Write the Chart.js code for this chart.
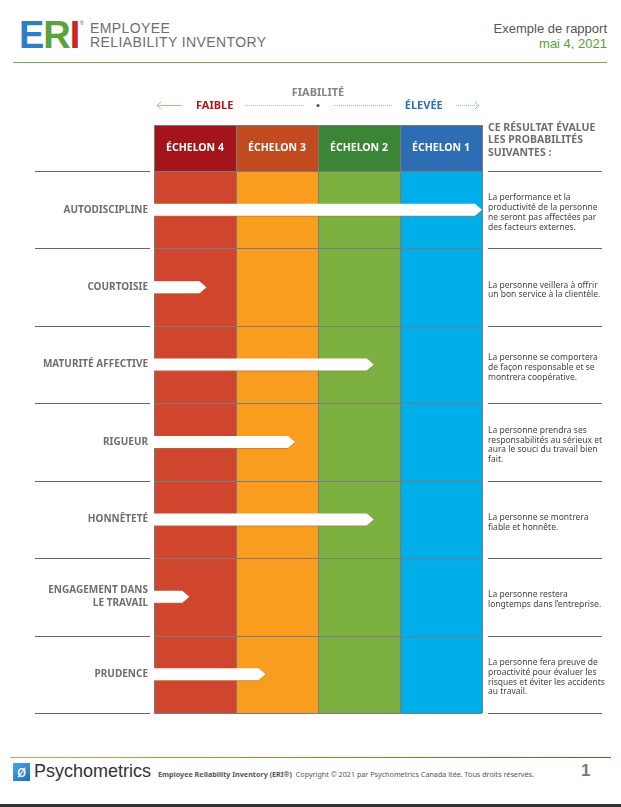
<!DOCTYPE html>
<html lang="fr">
<head>
<meta charset="UTF-8">
<title>ERI - Exemple de rapport</title>
<script src="https://cdn.jsdelivr.net/npm/chart.js@4.4.0/dist/chart.umd.min.js"></script>
<style>
    body {
        margin: 0;
        width: 621px;
        height: 807px;
        position: relative;
        overflow: hidden;
        background: #fff;
        font-family: "Liberation Sans", Arial, sans-serif;
    }

    /* HEADER */
    .logo {
        position: absolute;
        left: 19px;
        top: 14px;
        font: bold 38px "Liberation Sans", Arial, sans-serif;
        letter-spacing: -1px;
    }
    .logo .e { color: #2f7fc4; }
    .logo .r { color: #5aa23a; }
    .logo .i { color: #c8261d; }
    .logo sup { font-size: 6px; color: #888; vertical-align: top; position: relative; top: 6px; }

    .brand {
        position: absolute;
        left: 90px;
        top: 21px;
        font-size: 14px;
        line-height: 14px;
        letter-spacing: 0.4px;
        color: #6d6e71;
    }

    .report {
        position: absolute;
        right: 14px;
        top: 21px;
        text-align: right;
        font-size: 13px;
        line-height: 15px;
        color: #555;
    }
    .report .date { color: #5c9e34; }

    .top_line {
        position: absolute;
        left: 13px;
        top: 62px;
        width: 594px;
        height: 1px;
        background: #74b044;
    }

    /* CHART */
    #eri {
        position: absolute;
        left: 0;
        top: 80px;
    }

    /* FOOTER */
    .bottom_line {
        position: absolute;
        left: 10px;
        top: 757px;
        width: 601px;
        height: 1px;
        background: linear-gradient(to right, #e39a5a, #c23a26);
    }
    .psy_icon {
        position: absolute;
        left: 13px;
        top: 763px;
        width: 17px;
        height: 18px;
        background: linear-gradient(135deg, #4fa6e4, #1f6fb8);
        color: #fff;
        font: 15px "DejaVu Sans", sans-serif;
        line-height: 18px;
        text-align: center;
    }
    .psy_name {
        position: absolute;
        left: 34px;
        top: 761px;
        font-size: 18px;
        color: #333;
    }
    .copyright {
        position: absolute;
        left: 158px;
        top: 769px;
        font: 7.2px "Noto Sans", sans-serif;
        color: #555;
    }
    .copyright b { color: #555; }
    .page_num {
        position: absolute;
        left: 581px;
        top: 761px;
        font: bold 17px "Liberation Sans", Arial, sans-serif;
        color: #777;
    }
    .bottom_bar {
        position: absolute;
        left: 0;
        top: 804px;
        width: 621px;
        height: 3px;
        background: #333;
    }
</style>
</head>
<body>
    <div class="logo"><span class="e">E</span><span class="r">R</span><span class="i">I</span><sup>®</sup></div>
    <div class="brand">EMPLOYEE<br>RELIABILITY INVENTORY</div>
    <div class="report">Exemple de rapport<br><span class="date">mai 4, 2021</span></div>
    <div class="top_line"></div>

    <canvas id="eri" width="621" height="650"></canvas>

    <div class="bottom_line"></div>
    <div class="psy_icon">ø</div>
    <div class="psy_name">Psychometrics</div>
    <div class="copyright"><b>Employee Reliability Inventory (ERI®)</b>&nbsp; Copyright © 2021 par Psychometrics Canada ltée. Tous droits réservés.</div>
    <div class="page_num">1</div>
    <div class="bottom_bar"></div>

<script>
    // Données du rapport
    const categories = ['AUTODISCIPLINE', 'COURTOISIE', 'MATURITÉ AFFECTIVE', 'RIGUEUR', 'HONNÊTETÉ',
        ['ENGAGEMENT DANS', 'LE TRAVAIL'], 'PRUDENCE'];
    const scores = [4.0, 0.64, 2.68, 1.72, 2.68, 0.43, 1.36];
    const echelons = ['ÉCHELON 4', 'ÉCHELON 3', 'ÉCHELON 2', 'ÉCHELON 1'];
    const descriptions = [
        ['La performance et la', 'productivité de la personne', 'ne seront pas affectées par', 'des facteurs externes.'],
        ['La personne veillera à offrir', 'un bon service à la clientèle.'],
        ['La personne se comportera', 'de façon responsable et se', 'montrera coopérative.'],
        ['La personne prendra ses', 'responsabilités au sérieux et', 'aura le souci du travail bien', 'fait.'],
        ['La personne se montrera', 'fiable et honnête.'],
        ['La personne restera', 'longtemps dans l’entreprise.'],
        ['La personne fera preuve de', 'proactivité pour évaluer les', 'risques et éviter les accidents', 'au travail.']
    ];
    const headerTitle = ['CE RÉSULTAT ÉVALUE', 'LES PROBABILITÉS', 'SUIVANTES :'];

    const headColors = ['#a3151b', '#c14b1e', '#3b8636', '#2c6db3'];
    const bodyColors = ['#cf452d', '#f89d20', '#7cb141', '#00aee9'];
    const gray = '#7b7b7b';
    const labelGray = '#6d6e71';
    const FONT = '"Noto Sans", sans-serif';

    const eriGrid = {
        id: 'eriGrid',
        beforeDatasetsDraw(chart) {
            const { ctx, chartArea: a, scales: { x } } = chart;
            const headTop = a.top - 46;
            const n = categories.length;
            const band = (a.bottom - a.top) / n;

            ctx.save();
            // colonnes
            for (let i = 0; i < echelons.length; i++) {
                const x0 = x.getPixelForValue(i);
                const x1 = x.getPixelForValue(i + 1);
                ctx.fillStyle = headColors[i];
                ctx.fillRect(x0, headTop, x1 - x0, a.top - headTop);
                ctx.fillStyle = bodyColors[i];
                ctx.fillRect(x0, a.top, x1 - x0, a.bottom - a.top);

                ctx.fillStyle = '#fff';
                ctx.font = 'bold 10.5px ' + FONT;
                ctx.textAlign = 'center';
                ctx.textBaseline = 'middle';
                ctx.fillText(echelons[i], (x0 + x1) / 2, headTop + 23);
            }

            // lignes horizontales
            ctx.lineWidth = 1;
            for (let k = 0; k <= n; k++) {
                const yy = Math.round(a.top + k * band) + 0.5;
                ctx.strokeStyle = gray;
                ctx.beginPath();
                ctx.moveTo(a.left, yy);
                ctx.lineTo(a.right, yy);
                ctx.stroke();
                ctx.strokeStyle = '#666';
                ctx.beginPath();
                ctx.moveTo(a.left - 119, yy);
                ctx.lineTo(a.left - 4, yy);
                ctx.moveTo(a.right + 6, yy);
                ctx.lineTo(a.right + 120, yy);
                ctx.stroke();
            }
            ctx.strokeStyle = gray;
            ctx.beginPath();
            ctx.moveTo(a.left, headTop + 0.5);
            ctx.lineTo(a.right, headTop + 0.5);
            for (let i = 0; i <= echelons.length; i++) {
                const xx = Math.round(x.getPixelForValue(i)) + 0.5;
                ctx.moveTo(xx, headTop);
                ctx.lineTo(xx, a.bottom);
            }
            ctx.stroke();
            ctx.restore();
        },
        afterDatasetsDraw(chart) {
            const { ctx } = chart;
            const meta = chart.getDatasetMeta(0);
            ctx.save();
            ctx.fillStyle = '#fff';
            ctx.shadowColor = 'rgba(170, 120, 70, 0.6)';
            ctx.shadowOffsetY = 1;
            meta.data.forEach(bar => {
                const h = bar.height;
                const top = bar.y - h / 2;
                const tip = bar.x;
                ctx.beginPath();
                ctx.moveTo(bar.base, top);
                ctx.lineTo(tip - 7, top);
                ctx.lineTo(tip, bar.y);
                ctx.lineTo(tip - 7, top + h);
                ctx.lineTo(bar.base, top + h);
                ctx.closePath();
                ctx.fill();
            });
            ctx.restore();
        },
        afterDraw(chart) {
            const { ctx, chartArea: a, scales: { x } } = chart;
            ctx.save();
            ctx.textBaseline = 'middle';
            ctx.textAlign = 'center';

            // échelle de fiabilité
            ctx.font = 'bold 11px ' + FONT;
            ctx.fillStyle = '#858585';
            ctx.fillText('FIABILITÉ', x.getPixelForValue(2), 13);
            ctx.fillStyle = '#a8191e';
            ctx.fillText('FAIBLE', x.getPixelForValue(0.74), 25.5);
            ctx.fillStyle = '#2e6db3';
            ctx.fillText('ÉLEVÉE', x.getPixelForValue(3.29), 25.5);

            const yl = 25.5;
            ctx.lineWidth = 1;
            // flèche gauche
            ctx.strokeStyle = '#e3a57c';
            ctx.beginPath();
            ctx.moveTo(157, yl);
            ctx.lineTo(182, yl);
            ctx.moveTo(161, yl - 3.5);
            ctx.lineTo(157, yl);
            ctx.lineTo(161, yl + 3.5);
            ctx.stroke();
            // pointillés
            ctx.setLineDash([1, 1]);
            ctx.strokeStyle = '#e6b896';
            ctx.beginPath();
            ctx.moveTo(245, yl);
            ctx.lineTo(304, yl);
            ctx.stroke();
            ctx.strokeStyle = '#93bde2';
            ctx.beginPath();
            ctx.moveTo(333, yl);
            ctx.lineTo(392, yl);
            ctx.moveTo(456, yl);
            ctx.lineTo(479, yl);
            ctx.stroke();
            ctx.setLineDash([]);
            ctx.beginPath();
            ctx.moveTo(475, yl - 3.5);
            ctx.lineTo(479, yl);
            ctx.lineTo(475, yl + 3.5);
            ctx.stroke();
            ctx.fillStyle = '#555';
            ctx.beginPath();
            ctx.arc(x.getPixelForValue(2), yl, 1.6, 0, Math.PI * 2);
            ctx.fill();

            // titre de la colonne de droite
            ctx.textAlign = 'left';
            ctx.fillStyle = labelGray;
            ctx.font = 'bold 10.5px ' + FONT;
            headerTitle.forEach((t, i) => ctx.fillText(t, a.right + 6, a.top - 43 + i * 12.5));
            ctx.restore();
        }
    };

    new Chart(document.getElementById('eri'), {
        type: 'bar',
        data: {
            labels: categories,
            datasets: [{
                data: scores,
                backgroundColor: 'rgba(0,0,0,0)',
                borderWidth: 0,
                barThickness: 12
            }]
        },
        options: {
            indexAxis: 'y',
            responsive: false,
            devicePixelRatio: 1,
            animation: false,
            layout: { padding: { top: 91, bottom: 17, left: 0, right: 0 } },
            plugins: {
                legend: { display: false },
                tooltip: { enabled: false }
            },
            scales: {
                x: { type: 'linear', min: 0, max: 4, display: false },
                y: {
                    position: 'left',
                    grid: { display: false, drawTicks: false },
                    border: { display: false },
                    ticks: {
                        color: labelGray,
                        padding: 6,
                        font: { family: FONT, size: 10, weight: 'bold', lineHeight: 1.3 }
                    },
                    afterFit(scale) {
                        scale.width = 154;
                        scale.paddingTop = 0;
                        scale.paddingBottom = 0;
                    }
                },
                y2: {
                    type: 'category',
                    labels: descriptions,
                    position: 'right',
                    offset: true,
                    grid: { display: false, drawTicks: false },
                    border: { display: false },
                    ticks: {
                        color: '#444',
                        padding: 6,
                        labelOffset: 3,
                        font: { family: FONT, size: 8.5, lineHeight: 1.15 }
                    },
                    afterFit(scale) {
                        scale.width = 139;
                        scale.paddingTop = 0;
                        scale.paddingBottom = 0;
                    }
                }
            }
        },
        plugins: [eriGrid]
    });
</script>
</body>
</html>
